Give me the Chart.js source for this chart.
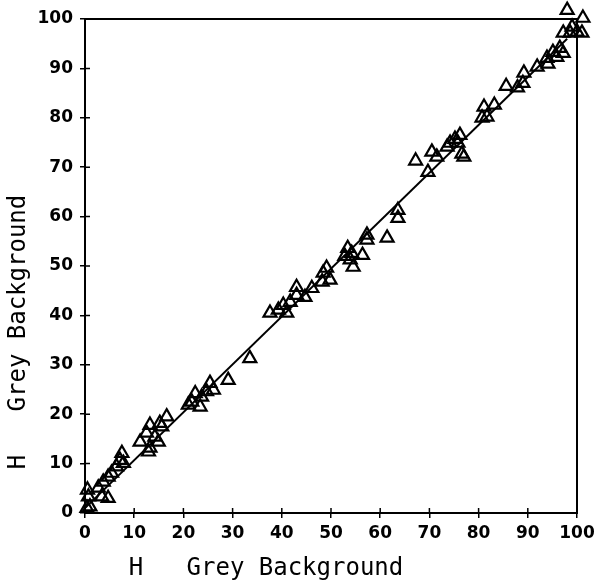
<!DOCTYPE html>
<html>
<head>
<meta charset="utf-8">
<script src="https://cdn.jsdelivr.net/npm/chart.js"></script>
<style>
  html, body { margin: 0; padding: 0; background: #fff; }
</style>
</head>
<body>
<canvas id="hueChart" width="596" height="586"></canvas>
<script>
// H on white background (x) vs H on grey background (y)
const hWhite = [
  0.4, 1.0, 0.7, 0.5, 2.7, 3.4, 4.7, 3.7, 4.7, 5.4, 6.4, 7.1, 7.5, 7.8,
  11.2, 12.5, 13.2, 13.2, 12.9, 14.2, 15.2, 16.6, 14.9, 15.6,
  21.0, 21.7, 22.4, 23.4, 23.7, 24.7, 25.4, 26.1, 29.1, 33.5,
  37.6, 39.3, 41.0, 40.3, 41.7, 43.0, 43.0, 44.7, 46.1, 48.2, 48.4, 49.1, 49.8,
  52.8, 53.4, 53.9, 54.2, 54.5, 56.4, 57.3, 57.3, 61.4, 63.6, 63.6,
  67.2, 69.7, 70.5, 71.5, 73.6, 74.2, 75.2, 75.8, 76.2, 76.6, 77.0,
  80.7, 81.1, 81.7, 83.2, 85.6, 87.9, 89.0, 89.2, 91.9, 94.1, 93.9, 95.1, 95.9,
  96.5, 97.2, 97.2, 98.6, 100.0, 98.0, 101.2, 101.0, 99.0
];
const hGrey = [
  1.0, 1.3, 3.3, 4.7, 5.1, 3.3, 3.0, 6.3, 7.3, 8.1, 9.4, 10.7, 12.1, 10.1,
  14.4, 16.2, 17.8, 13.2, 12.4, 15.4, 18.2, 19.5, 14.4, 17.5,
  21.9, 22.5, 24.2, 21.5, 23.5, 24.6, 26.3, 24.9, 26.9, 31.3,
  40.5, 41.1, 40.5, 42.1, 42.7, 45.7, 44.1, 43.7, 45.5, 46.8, 48.6, 49.6, 47.2,
  52.0, 53.6, 51.3, 52.6, 49.8, 52.2, 56.3, 55.3, 55.7, 61.3, 59.7,
  71.3, 69.0, 73.1, 72.1, 74.1, 74.9, 75.7, 74.9, 76.5, 72.7, 72.1,
  80.0, 82.2, 80.2, 82.6, 86.4, 86.1, 87.0, 89.1, 90.3, 90.9, 92.1, 93.3, 92.3,
  94.1, 93.1, 97.2, 97.2, 97.4, 101.8, 100.2, 97.2, 98.4
];

// fitted line
const fitX = [0, 98];
const fitY = [1, 96];

const tickValues = [0, 10, 20, 30, 40, 50, 60, 70, 80, 90, 100];
const axisTitle = "H   Grey Background";

const points = hWhite.map((x, i) => ({ x: x, y: hGrey[i] }));
const fitLine = fitX.map((x, i) => ({ x: x, y: fitY[i] }));

// box around the plot + inner half of the tick crosses + axis titles
const framePlugin = {
  id: "frame",
  afterDraw(chart) {
    const { ctx, chartArea: a, scales } = chart;
    ctx.save();
    ctx.strokeStyle = "#000";
    ctx.lineWidth = 2;
    ctx.strokeRect(a.left, a.top, a.right - a.left, a.bottom - a.top);

    ctx.lineWidth = 1.5;
    ctx.beginPath();
    tickValues.forEach(v => {
      const px = scales.x.getPixelForValue(v);
      ctx.moveTo(px, a.bottom);
      ctx.lineTo(px, a.bottom - 5);
      const py = scales.y.getPixelForValue(v);
      ctx.moveTo(a.left, py);
      ctx.lineTo(a.left + 5, py);
    });
    ctx.stroke();

    ctx.fillStyle = "#000";
    ctx.font = '24px "DejaVu Sans Mono"';
    ctx.textAlign = "center";
    ctx.textBaseline = "alphabetic";
    ctx.fillText(axisTitle, (a.left + a.right) / 2 - 65, a.bottom + 62);

    ctx.translate(25, (a.top + a.bottom) / 2 + 66);
    ctx.rotate(-Math.PI / 2);
    ctx.fillText(axisTitle, 0, 0);
    ctx.restore();
  }
};

const tickFont = { family: "DejaVu Sans", size: 17, weight: "bold" };

new Chart(document.getElementById("hueChart"), {
  type: "scatter",
  data: {
    datasets: [
      {
        label: "fit",
        type: "line",
        data: fitLine,
        borderColor: "#000",
        borderWidth: 2,
        pointRadius: 0,
        fill: false
      },
      {
        label: "H",
        data: points,
        pointStyle: "triangle",
        pointRadius: 7.5,
        borderWidth: 2.2,
        borderColor: "#000",
        backgroundColor: "rgba(0,0,0,0)",
        clip: false
      }
    ]
  },
  options: {
    responsive: false,
    animation: false,
    layout: { padding: { left: 0, right: 19, top: 19, bottom: 0 } },
    plugins: {
      legend: { display: false },
      tooltip: { enabled: false }
    },
    scales: {
      x: {
        type: "linear",
        min: 0,
        max: 100,
        afterFit: s => { s.height = 73; s.paddingRight = 0; s.paddingLeft = 0; },
        ticks: { stepSize: 10, color: "#000", font: tickFont, padding: 5, maxRotation: 0 },
        grid: { drawOnChartArea: false, tickLength: 5, color: "#000", lineWidth: 1.5 },
        border: { color: "#000", width: 2 }
      },
      y: {
        type: "linear",
        min: 0,
        max: 100,
        afterFit: s => { s.width = 85; s.paddingTop = 0; s.paddingBottom = 0; },
        ticks: { stepSize: 10, color: "#000", font: tickFont, padding: 7 },
        grid: { drawOnChartArea: false, tickLength: 5, color: "#000", lineWidth: 1.5 },
        border: { color: "#000", width: 2 }
      }
    }
  },
  plugins: [framePlugin]
});
</script>
</body>
</html>
